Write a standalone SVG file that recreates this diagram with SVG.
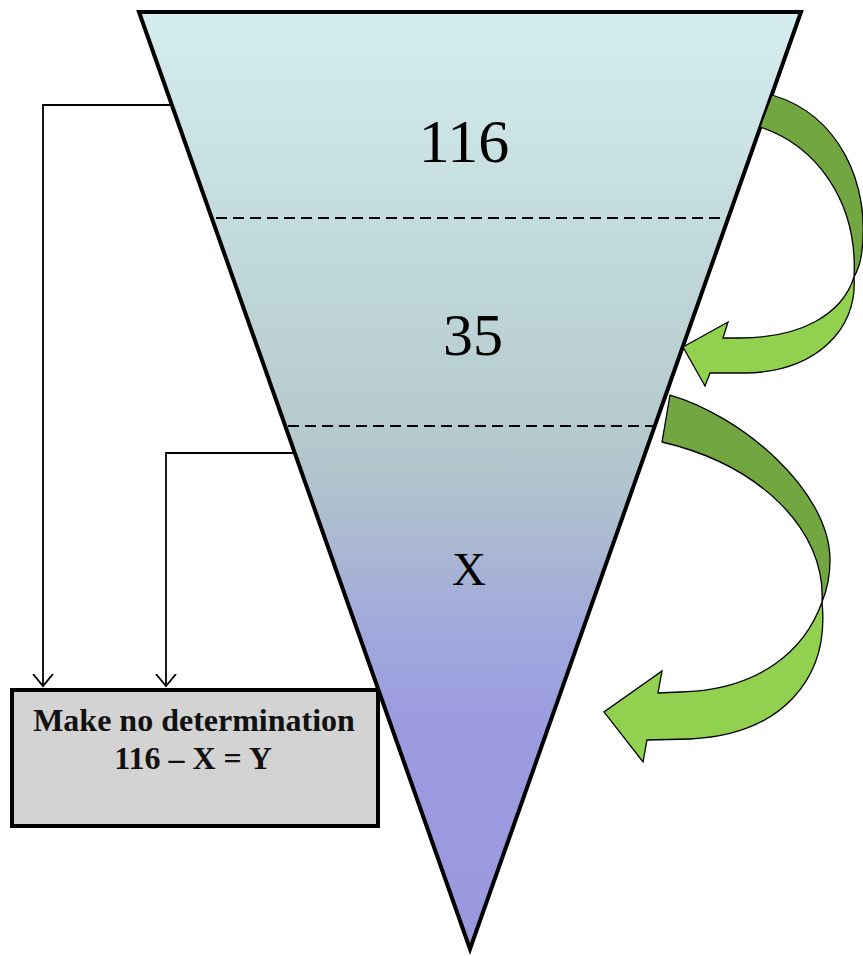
<svg xmlns="http://www.w3.org/2000/svg" width="863" height="956" viewBox="0 0 863 956">
  <defs>
    <linearGradient id="funnelGrad" gradientUnits="userSpaceOnUse" x1="0" y1="12" x2="0" y2="950">
      <stop offset="0" stop-color="#d5edef"/>
      <stop offset="0.45" stop-color="#b4cacc"/>
      <stop offset="0.53" stop-color="#aebfcf"/>
      <stop offset="0.66" stop-color="#a1a8dc"/>
      <stop offset="0.76" stop-color="#9b9be0"/>
      <stop offset="1" stop-color="#9a98df"/>
    </linearGradient>
    <marker id="openArrow" markerWidth="24" markerHeight="24" refX="12" refY="12" orient="auto" markerUnits="userSpaceOnUse">
      <path d="M0,2 L12,12 L0,22" fill="none" stroke="#000" stroke-width="1.8"/>
    </marker>
    <style>
      .connector { fill: none; stroke: #000; stroke-width: 1.8; }
      .dash { stroke: #000; stroke-width: 2.2; stroke-dasharray: 11 6; }
      .num { font-family: "Liberation Serif", "Times New Roman", serif; fill: #000; text-anchor: middle; }
      .boxtext { font-family: "Liberation Serif", "Times New Roman", serif; font-weight: bold; font-size: 32px; fill: #111; text-anchor: middle; }
      .dark { fill: #72a640; stroke: #000; stroke-width: 1.3; stroke-linejoin: round; }
      .light { fill: #92d050; stroke: #000; stroke-width: 1.3; stroke-linejoin: miter; }
    </style>
  </defs>

  <g id="funnel">
    <polygon points="139,12 801,12 470,949" fill="url(#funnelGrad)" stroke="#000" stroke-width="4" stroke-linejoin="miter"/>
    <line class="dash" x1="216" y1="218" x2="727" y2="218"/>
    <line class="dash" x1="288" y1="426" x2="655" y2="426"/>
    <text class="num" x="464" y="162" font-size="62">116</text>
    <text class="num" x="473" y="355" font-size="60">35</text>
    <text class="num" x="469" y="585" font-size="47">X</text>
  </g>

  <g id="arrow-1">
    <path class="dark" d="M772,95 C840,115 870,185 862,250 C861,262 858,270 854,277 C858,200 815,145 760,127 Z"/>
    <path class="light" d="M854,277 C842,315 800,338 740,338 L723,338 L728,322 L683,347 L705,386 L710,373 L745,373 C815,372 858,330 854,277 Z"/>
  </g>

  <g id="arrow-2">
    <path class="dark" d="M670,395 C740,415 830,490 830,560 C830,575 827,590 822,602 C826,530 760,465 662,442 Z"/>
    <path class="light" d="M822,602 C805,650 760,690 680,692 L658,693 L662,671 L604,712 L643,762 L647,740 L690,739 C780,735 830,680 822,602 Z"/>
  </g>

  <g id="box">
    <rect x="12" y="690" width="366" height="136" fill="#d3d3d3" stroke="#000" stroke-width="4"/>
    <text class="boxtext" x="194" y="731">Make no determination</text>
    <text class="boxtext" x="193" y="769">116 – X = Y</text>
  </g>

  <g id="connectors">
    <polyline class="connector" points="172,105 43,105 43,686" marker-end="url(#openArrow)"/>
    <polyline class="connector" points="293,453 166,453 166,686" marker-end="url(#openArrow)"/>
  </g>
</svg>
